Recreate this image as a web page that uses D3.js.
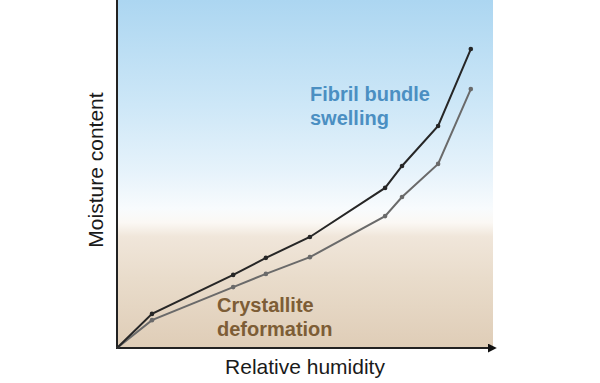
<!DOCTYPE html>
<html>
<head>
<meta charset="utf-8">
<script src="https://cdn.jsdelivr.net/npm/d3@7"></script>
<style>
  body { margin: 0; background: #fff; }
  svg { display: block; font-family: "Liberation Sans", Arial, sans-serif; }
</style>
</head>
<body>
<svg id="chart"></svg>
<script>
// Relative humidity positions (0-100) and moisture content for both curves
const humidity = [0, 9.3, 30.9, 39.6, 51.3, 71.3, 75.8, 85.4, 94.1];
const upperCurve = [0, 9.8, 21, 25.9, 31.9, 46, 52.3, 63.8, 85.9];
const lowerCurve = [0, 8, 17.5, 21.3, 26.1, 37.9, 43.4, 52.9, 74.4];

let width = 600, height = 383;
let margin = { top: 0, left: 117, right: 107, bottom: 35 };

let svg = d3.select('#chart')
    .attr('width', width)
    .attr('height', height);

let xScale = d3.scaleLinear()
    .domain([0, 100])
    .range([margin.left, width - margin.right]);

let yScale = d3.scaleLinear()
    .domain([0, 100])
    .range([height - margin.bottom, margin.top]);

// background gradient: blue sky fading to tan
const defs = svg.append('defs');
const grad = defs.append('linearGradient')
    .attr('id', 'bg')
    .attr('x1', 0).attr('x2', 0).attr('y1', 0).attr('y2', 1);
[
    [0, '#acd6f1'],
    [0.3, '#cde7f7'],
    [0.5, '#e7f3fb'],
    [0.6, '#f8fbfd'],
    [0.64, '#fbf8f4'],
    [0.68, '#f0e6da'],
    [0.8, '#e9dccb'],
    [1, '#dfcdb7']
].forEach(s => grad.append('stop').attr('offset', s[0]).attr('stop-color', s[1]));

svg.append('rect')
    .attr('x', xScale(0))
    .attr('y', yScale(100))
    .attr('width', xScale(100) - xScale(0))
    .attr('height', yScale(0) - yScale(100))
    .attr('fill', 'url(#bg)');

defs.append('marker')
    .attr('id', 'arrow')
    .attr('viewBox', '0 0 10 10')
    .attr('refX', 8).attr('refY', 5)
    .attr('markerWidth', 4.5).attr('markerHeight', 4.5)
    .attr('orient', 'auto')
    .append('path')
    .attr('d', 'M0,0 L10,5 L0,10 z')
    .attr('fill', '#111');

// axes
svg.append('line')
    .attr('x1', xScale(0)).attr('x2', xScale(0))
    .attr('y1', yScale(0)).attr('y2', yScale(100))
    .attr('stroke', '#222').attr('stroke-width', 2);

svg.append('line')
    .attr('x1', xScale(0) - 1).attr('x2', xScale(100) + 2)
    .attr('y1', yScale(0)).attr('y2', yScale(0))
    .attr('stroke', '#222').attr('stroke-width', 2)
    .attr('marker-end', 'url(#arrow)');

// curves
const line = d3.line()
    .x((d, i) => xScale(humidity[i]))
    .y(d => yScale(d));

const series = [
    { values: lowerCurve, color: '#6a6a6a' },
    { values: upperCurve, color: '#262626' }
];

series.forEach(s => {
    svg.append('path')
        .datum(s.values)
        .attr('d', line)
        .attr('fill', 'none')
        .attr('stroke', s.color)
        .attr('stroke-width', 2);

    svg.selectAll(null)
        .data(s.values.slice(1))
        .enter()
        .append('circle')
        .attr('cx', (d, i) => xScale(humidity[i + 1]))
        .attr('cy', d => yScale(d))
        .attr('r', 2.3)
        .attr('fill', s.color);
});

// annotations
const fibril = svg.append('text')
    .attr('x', 310).attr('y', 101)
    .attr('fill', '#4b8fc2')
    .style('font-size', '20px')
    .style('font-weight', 'bold');
fibril.append('tspan').attr('x', 310).text('Fibril bundle');
fibril.append('tspan').attr('x', 310).attr('dy', 24).text('swelling');

const crystal = svg.append('text')
    .attr('x', 217).attr('y', 312)
    .attr('fill', '#7d5d36')
    .style('font-size', '20px')
    .style('font-weight', 'bold');
crystal.append('tspan').attr('x', 217).text('Crystallite');
crystal.append('tspan').attr('x', 217).attr('dy', 24).text('deformation');

// axis labels
svg.append('text')
    .attr('x', 305)
    .attr('y', 374)
    .attr('text-anchor', 'middle')
    .attr('fill', '#1a1a1a')
    .style('font-size', '21px')
    .text('Relative humidity');

svg.append('text')
    .attr('transform', 'translate(103, 170) rotate(-90)')
    .attr('text-anchor', 'middle')
    .attr('fill', '#1a1a1a')
    .style('font-size', '21px')
    .text('Moisture content');
</script>
</body>
</html>
